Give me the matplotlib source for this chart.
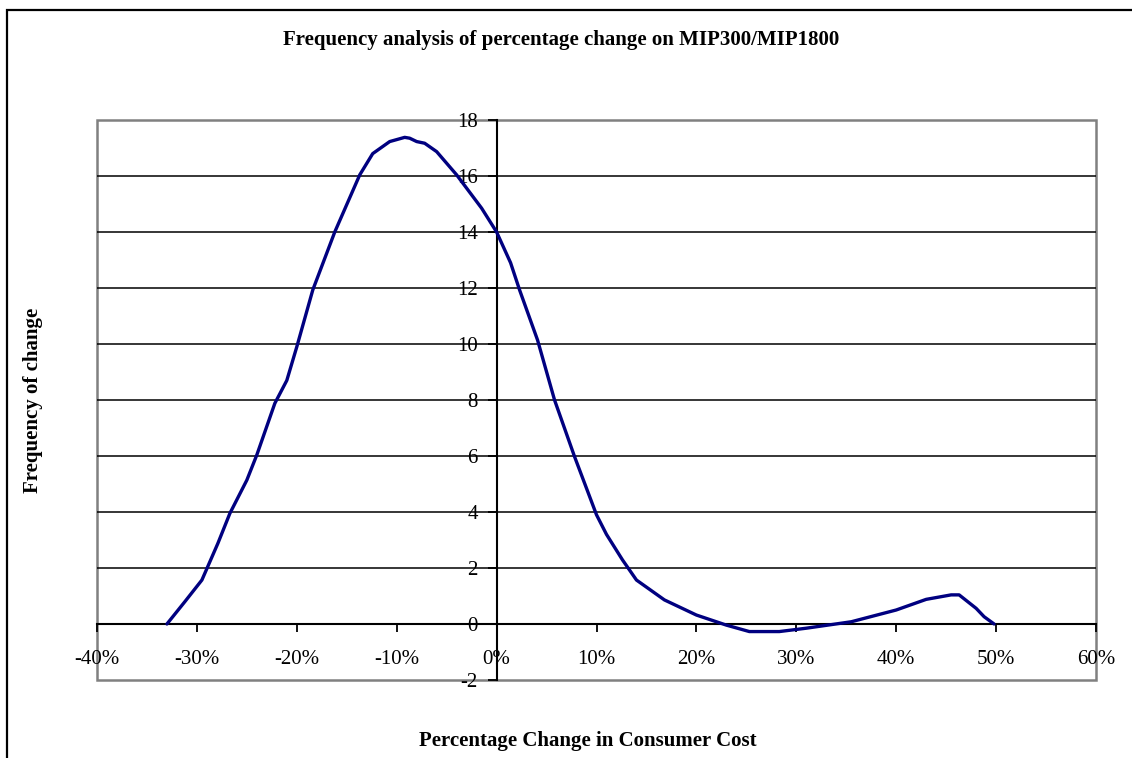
import matplotlib
matplotlib.use("Agg")
import matplotlib.pyplot as plt
from matplotlib.patches import Rectangle
from matplotlib.ticker import FuncFormatter

# Data (x in %, y = frequency)
pct_change = [-33.0, -31.2, -29.5, -27.9, -26.7, -25.0, -24.0, -22.2, -21.0, -20.0,
              -18.4, -16.2, -13.7, -12.4, -10.7, -9.2, -8.7, -8.0, -7.2, -6.0,
              -4.0, -1.5, 0.0, 1.4, 2.3, 4.1, 5.8, 7.8, 10.0, 11.0,
              12.6, 14.0, 16.8, 20.0, 23.0, 25.3, 28.3, 31.0, 35.5, 40.0,
              43.0, 45.5, 46.3, 48.0, 48.8, 49.8]
frequency = [0.0, 0.8, 1.57, 2.88, 3.95, 5.14, 6.04, 7.88, 8.7, 9.9,
             11.93, 14.0, 16.04, 16.8, 17.23, 17.38, 17.35, 17.23, 17.17, 16.87,
             16.04, 14.85, 14.0, 12.9, 11.93, 10.14, 8.0, 5.98, 3.9, 3.2,
             2.29, 1.57, 0.86, 0.32, -0.04, -0.27, -0.27, -0.15, 0.08, 0.5,
             0.88, 1.04, 1.04, 0.56, 0.26, 0.0]

x_ticks = [-40, -30, -20, -10, 0, 10, 20, 30, 40, 50, 60]
y_ticks = [-2, 0, 2, 4, 6, 8, 10, 12, 14, 16, 18]

title = "Frequency analysis of percentage change on MIP300/MIP1800"
x_label = "Percentage Change in Consumer Cost"
y_label = "Frequency of change"

plt.rcParams['font.family'] = ['Liberation Serif', 'DejaVu Serif']

W, H = 1132, 758
fig = plt.figure(figsize=(W / 100, H / 100), dpi=100)
fig.patch.set_facecolor('white')

# Outer chart frame (extends past right/bottom edges)
frame = Rectangle((7 / W, -0.05), 1.2, 1 - 10 / H + 0.05, transform=fig.transFigure,
                  fill=False, edgecolor='black', linewidth=1.6, clip_on=False)
fig.patches.append(frame)

ax_l, ax_r, ax_t, ax_b = 97, 1096, 120, 680
ax = fig.add_axes([ax_l / W, 1 - ax_b / H, (ax_r - ax_l) / W, (ax_b - ax_t) / H])

ax.plot(pct_change, frequency, color='#000080', linewidth=2.4,
        solid_joinstyle='round', solid_capstyle='round', zorder=5)

ax.set_xlim(x_ticks[0], x_ticks[-1])
ax.set_ylim(y_ticks[0], y_ticks[-1])
ax.set_xticks(x_ticks)
ax.set_yticks(y_ticks)
ax.xaxis.set_major_formatter(FuncFormatter(lambda v, p: f"{int(round(v))}%"))
ax.yaxis.set_major_formatter(FuncFormatter(lambda v, p: f"{int(round(v))}"))

# gridlines (horizontal, black)
for yv in y_ticks[1:-1]:
    ax.axhline(yv, color='black', linewidth=1.1, zorder=1)

# spines: axes cross at zero
for s in ['top', 'right']:
    ax.spines[s].set_visible(False)
ax.spines['left'].set_position(('data', 0))
ax.spines['bottom'].set_position(('data', 0))
ax.spines['left'].set_color('black')
ax.spines['bottom'].set_color('black')
ax.spines['left'].set_linewidth(1.5)
ax.spines['bottom'].set_linewidth(1.5)
# grey border of the plot area
ax.add_patch(Rectangle((0, 0), 1, 1, transform=ax.transAxes, fill=False,
                       edgecolor='#808080', linewidth=1.8, zorder=0.5, clip_on=False))

ax.tick_params(axis='y', direction='out', length=6.5, width=1.3, pad=7, labelsize=15, colors='black')
ax.tick_params(axis='x', direction='out', length=6, width=1.3, pad=13, labelsize=15, colors='black')

fig.text(561 / W, 1 - 40 / H, title, ha='center', va='center', fontsize=15, fontweight='bold')
fig.text(588 / W, 1 - 741 / H, x_label, ha='center', va='center', fontsize=15, fontweight='bold')
fig.text(33 / W, 1 - 400 / H, y_label, ha='center', va='center', fontsize=15, fontweight='bold', rotation=90)

fig.savefig('out.png', dpi=100, facecolor='white')
